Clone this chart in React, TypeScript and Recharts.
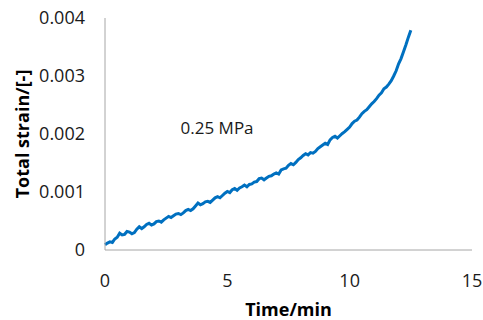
import { LineChart, Line, XAxis, YAxis, ReferenceDot } from "recharts";

const timeMin = [
  0, 0.1, 0.2, 0.3, 0.4, 0.5, 0.6, 0.7, 0.8, 0.9, 1.0, 1.1, 1.2, 1.3, 1.4,
  1.5, 1.6, 1.7, 1.8, 1.9, 2.0, 2.1, 2.2, 2.3, 2.4, 2.5, 2.6, 2.7, 2.8, 2.9,
  3.0, 3.1, 3.2, 3.3, 3.4, 3.5, 3.6, 3.7, 3.8, 3.9, 4.0, 4.1, 4.2, 4.3, 4.4,
  4.5, 4.6, 4.7, 4.8, 4.9, 5.0, 5.1, 5.2, 5.3, 5.4, 5.5, 5.6, 5.7, 5.8, 5.9,
  6.0, 6.1, 6.2, 6.3, 6.4, 6.5, 6.6, 6.7, 6.8, 6.9, 7.0, 7.1, 7.2, 7.3, 7.4,
  7.5, 7.6, 7.7, 7.8, 7.9, 8.0, 8.1, 8.2, 8.3, 8.4, 8.5, 8.6, 8.7, 8.8, 8.9,
  9.0, 9.1, 9.2, 9.3, 9.4, 9.5, 9.6, 9.7, 9.8, 9.9, 10.0, 10.1, 10.2, 10.3,
  10.4, 10.5, 10.6, 10.7, 10.8, 10.9, 11.0, 11.1, 11.2, 11.3, 11.4, 11.5,
  11.6, 11.7, 11.8, 11.9, 12.0, 12.1, 12.2, 12.3, 12.4, 12.5,
];

const totalStrain = [
  0.00009, 0.00012, 0.00014, 0.00013, 0.00019, 0.00022, 0.00029, 0.00026,
  0.00027, 0.00032, 0.00031, 0.00028, 0.0003, 0.00036, 0.0004, 0.00037,
  0.0004, 0.00044, 0.00046, 0.00043, 0.00045, 0.00049, 0.0005, 0.00048,
  0.00052, 0.00055, 0.00058, 0.00056, 0.00059, 0.00062, 0.00063, 0.00061,
  0.00064, 0.00068, 0.0007, 0.00068, 0.00071, 0.00076, 0.00081, 0.00078,
  0.0008, 0.00083, 0.00084, 0.00082, 0.00086, 0.0009, 0.00092, 0.0009,
  0.00094, 0.00098, 0.00101, 0.00099, 0.00104, 0.00106, 0.00103, 0.00107,
  0.00109, 0.00112, 0.00109, 0.00113, 0.00114, 0.00117, 0.00118, 0.00123,
  0.00124, 0.00121, 0.00124, 0.00127, 0.00128, 0.00131, 0.00133, 0.00131,
  0.00138, 0.0014, 0.00141, 0.00146, 0.00149, 0.00147, 0.00151, 0.00156,
  0.00159, 0.00163, 0.00166, 0.00164, 0.00168, 0.00167, 0.0017, 0.00175,
  0.00178, 0.00181, 0.00184, 0.00182, 0.0019, 0.00194, 0.00196, 0.00193,
  0.00197, 0.00201, 0.00204, 0.00208, 0.00212, 0.00218, 0.00222, 0.00224,
  0.00229, 0.00235, 0.00239, 0.00242, 0.00247, 0.00252, 0.00256, 0.00261,
  0.00267, 0.00271, 0.00278, 0.00281, 0.00286, 0.00292, 0.003, 0.00309,
  0.00321, 0.0033, 0.00342, 0.00354, 0.00367, 0.00379,
];

const xTicks = [0, 5, 10, 15];
const yTicks = [0, 0.001, 0.002, 0.003, 0.004];

const rows = timeMin.map((t, i) => ({ t, strain: totalStrain[i] }));

const font = "'Open Sans', sans-serif";
const axisGray = "#a6a6a6";

export default function App() {
  return (
    <div style={{ position: "absolute", left: 0, top: 0, fontFamily: font }}>
      <LineChart
        width={483}
        height={320}
        data={rows}
        margin={{ top: 18, right: 11, bottom: 0, left: 0 }}
      >
        <XAxis
          dataKey="t"
          type="number"
          domain={[0, 15]}
          ticks={xTicks}
          tickLine={false}
          axisLine={{ stroke: axisGray }}
          tick={{ fontSize: 18, fill: "#1a1a1a", fontFamily: font }}
          tickMargin={18}
          height={70}
          label={{
            value: "Time/min",
            position: "insideBottom",
            offset: 4,
            style: { fontSize: 18, fontWeight: 700, fill: "#000", fontFamily: font },
          }}
        />
        <YAxis
          type="number"
          domain={[0, 0.004]}
          ticks={yTicks}
          tickLine={false}
          axisLine={{ stroke: axisGray }}
          tick={{ fontSize: 18, fill: "#1a1a1a", fontFamily: font }}
          tickMargin={14}
          width={105}
          tickFormatter={(v: number) => (v === 0 ? "0" : String(v))}
          label={{
            content: () => (
              <text
                x={22}
                y={134}
                transform="rotate(-90 22 134)"
                textAnchor="middle"
                dominantBaseline="central"
                style={{ fontSize: 18, fontWeight: 700, fill: "#000", fontFamily: font }}
              >
                Total strain/[-]
              </text>
            ),
          }}
        />
        <ReferenceDot
          x={4.58}
          y={0.0021}
          r={0}
          fill="none"
          stroke="none"
          label={{
            value: "0.25 MPa",
            position: "center",
            style: { fontSize: 17, fill: "#1a1a1a", fontFamily: font },
          }}
        />
        <Line
          type="linear"
          dataKey="strain"
          stroke="#0070c0"
          strokeWidth={3}
          dot={false}
          isAnimationActive={false}
        />
      </LineChart>
    </div>
  );
}
